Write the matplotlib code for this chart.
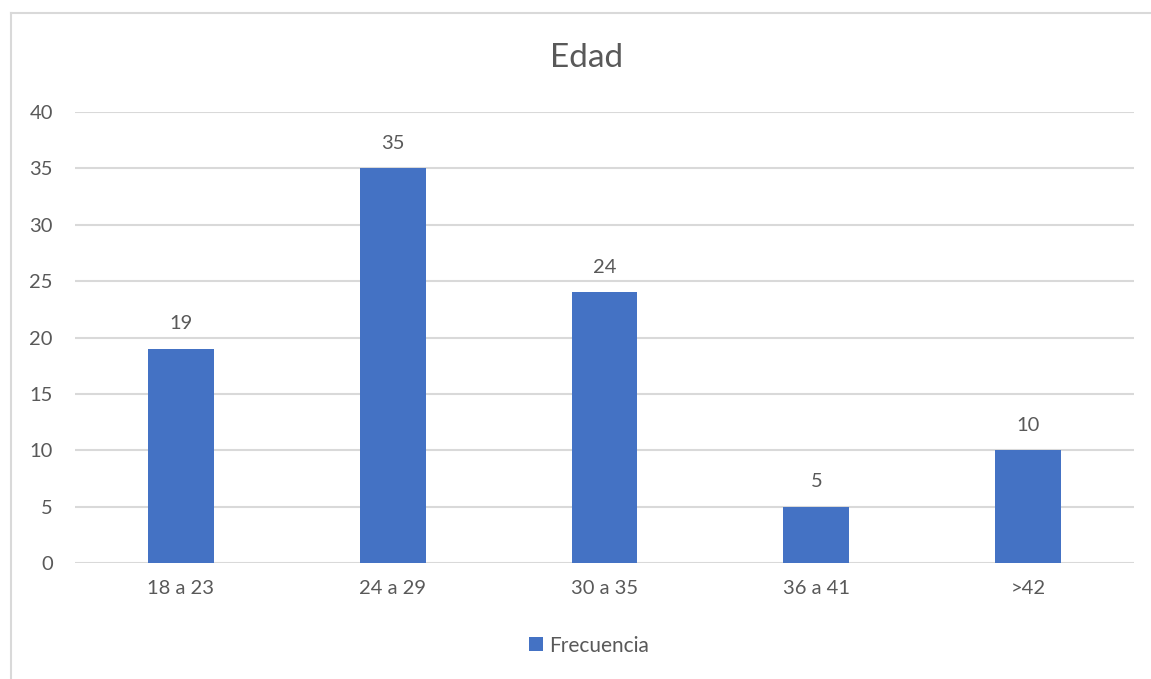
import matplotlib
matplotlib.use("Agg")
import matplotlib.pyplot as plt
from matplotlib.lines import Line2D
from matplotlib.patches import Patch

categories = ["18 a 23", "24 a 29", "30 a 35", "36 a 41", ">42"]
frecuencia = [19, 35, 24, 5, 10]
y_ticks = [0, 5, 10, 15, 20, 25, 30, 35, 40]

plt.rcParams["font.family"] = ["Lato", "DejaVu Sans"]
text_color = "#595959"
bar_color = "#4472C4"
grid_color = "#D9D9D9"

fig = plt.figure(figsize=(11.51, 6.79), dpi=100)
ax = fig.add_axes([0.0652, 0.1708, 0.920, 0.6642])

x = list(range(len(categories)))
bars = ax.bar(x, frecuencia, width=0.31, color=bar_color, zorder=3)

for xi, v in zip(x, frecuencia):
    ax.annotate(str(v), (xi, v), xytext=(0, 18), textcoords="offset points",
                ha="center", va="center", fontsize=14.5, color=text_color)

ax.set_xlim(-0.5, len(categories) - 0.5)
ax.set_ylim(0, 40)
ax.set_yticks(y_ticks)
ax.set_xticks(x)
ax.set_xticklabels(categories)
ax.tick_params(axis="both", length=0, labelsize=14.5, labelcolor=text_color)
ax.tick_params(axis="y", pad=16)
ax.tick_params(axis="x", pad=12)
ax.grid(axis="y", color=grid_color, linewidth=1.5, zorder=0)
for s in ax.spines.values():
    s.set_visible(False)

fig.text(0.510, 0.914, "Edad", ha="center", va="center", fontsize=24, color=text_color)

handle = Patch(facecolor=bar_color, edgecolor="none")
fig.legend([handle], ["Frecuencia"], loc="center", bbox_to_anchor=(0.512, 0.049),
           frameon=False, fontsize=15, labelcolor=text_color,
           handlelength=0.65, handleheight=0.65, handletextpad=0.3)

# outer chart border (left and top edges)
fig.add_artist(Line2D([11 / 1151, 11 / 1151], [0, 1 - 13 / 679],
                      transform=fig.transFigure, color=grid_color, linewidth=1.5))
fig.add_artist(Line2D([11 / 1151, 1], [1 - 13 / 679, 1 - 13 / 679],
                      transform=fig.transFigure, color=grid_color, linewidth=1.5))

fig.savefig("out.png", dpi=100, facecolor="white")
